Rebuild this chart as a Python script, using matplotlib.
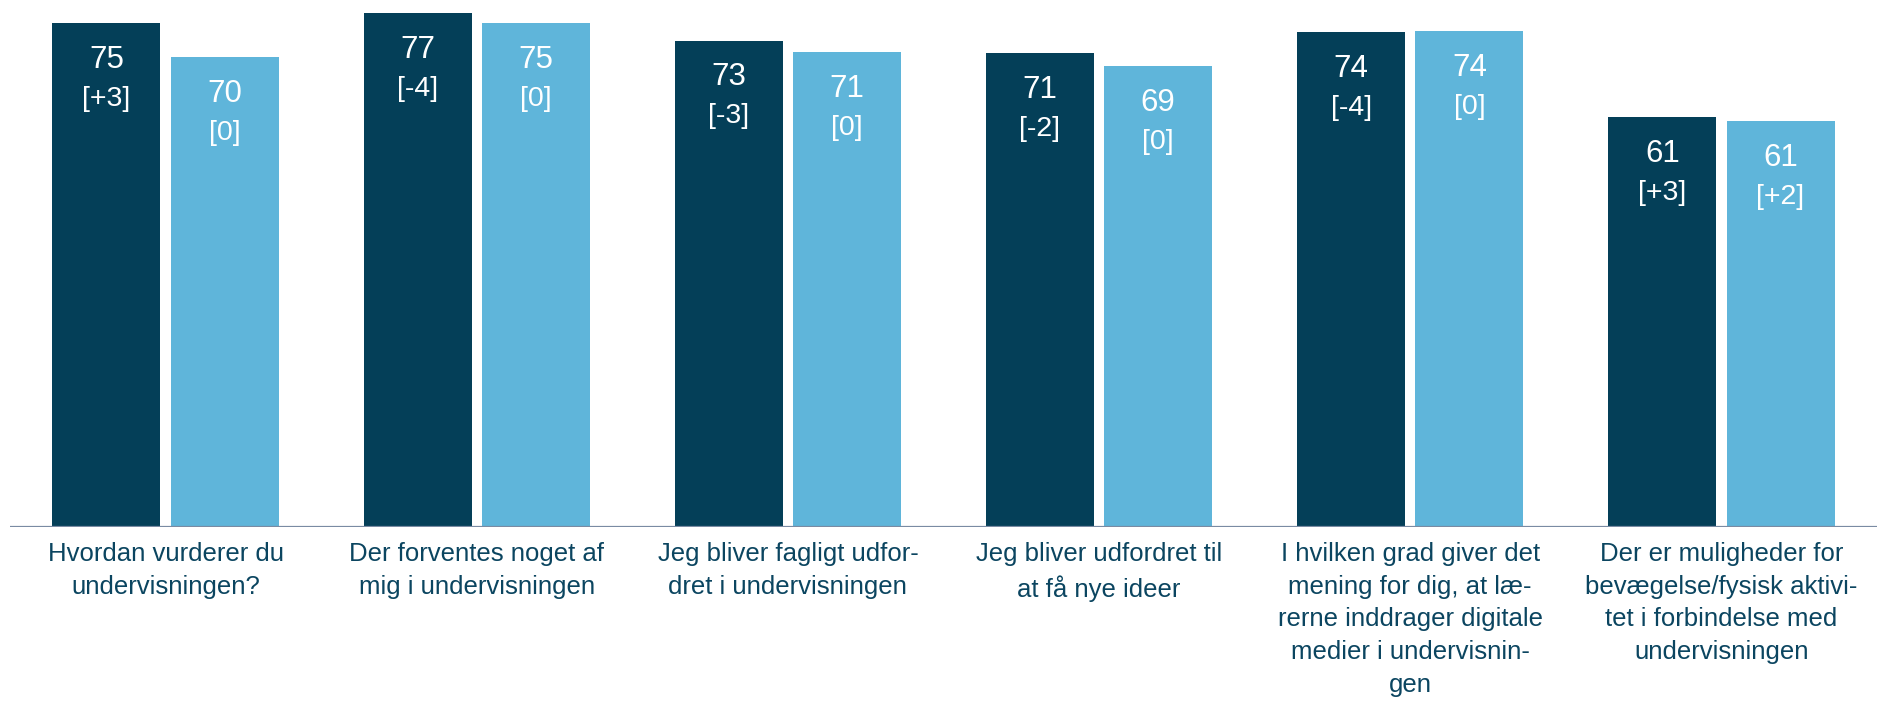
import matplotlib
matplotlib.use('Agg')
import matplotlib.pyplot as plt
import numpy as np

# Data
categories = [
    "Hvordan vurderer du\nundervisningen?",
    "Der forventes noget af\nmig i undervisningen",
    "Jeg bliver fagligt udfor-\ndret i undervisningen",
    "Jeg bliver udfordret til\nat få nye ideer",
    "I hvilken grad giver det\nmening for dig, at læ-\nrerne inddrager digitale\nmedier i undervisnin-\ngen",
    "Der er muligheder for\nbevægelse/fysisk aktivi-\ntet i forbindelse med\nundervisningen",
]
school_values = [75.2, 76.7, 72.6, 70.7, 73.9, 61.2]
school_changes = ["[+3]", "[-4]", "[-3]", "[-2]", "[-4]", "[+3]"]
national_values = [70.1, 75.2, 70.9, 68.8, 74.0, 60.6]
national_changes = ["[0]", "[0]", "[0]", "[0]", "[0]", "[+2]"]

DARK = '#043F58'
LIGHT = '#5FB5DA'
TEXT = '#0B4560'
AXIS = '#7A8BA3'

plt.rcParams['font.family'] = ['Liberation Sans', 'DejaVu Sans']

fig = plt.figure(figsize=(18.77, 7.04), dpi=100)
ax = fig.add_axes([10 / 1877, (704 - 527) / 704, 1 - 10 / 1877, 527 / 704])

x = np.arange(len(categories))
offset = 0.19
width = 0.347

bars_a = ax.bar(x - offset, school_values, width, color=DARK)
bars_b = ax.bar(x + offset, national_values, width, color=LIGHT)

# value labels inside the bars
for bars, vals, changes in [(bars_a, school_values, school_changes),
                            (bars_b, national_values, national_changes)]:
    for bar, val, chg in zip(bars, vals, changes):
        cx = bar.get_x() + bar.get_width() / 2
        ax.annotate(f"{val:.0f}", (cx, val), xytext=(0, -26.5), textcoords='offset points',
                    ha='center', va='center', color='white', fontsize=22.5)
        ax.annotate(chg, (cx, val), xytext=(0, -54.5), textcoords='offset points',
                    ha='center', va='center', color='white', fontsize=20.5)

ax.axhline(0, color=AXIS, lw=1.6, zorder=3)

ax.set_xlim(-0.5, 5.5)
ax.set_ylim(0, 527 / 6.7)
ax.set_xticks(x)
ax.set_xticklabels(categories, fontsize=18.5, color=TEXT, linespacing=1.47)
ax.tick_params(axis='x', length=0, pad=10.5)
ax.set_yticks([])
for s in ax.spines.values():
    s.set_visible(False)

fig.savefig('out.png', dpi=100)
